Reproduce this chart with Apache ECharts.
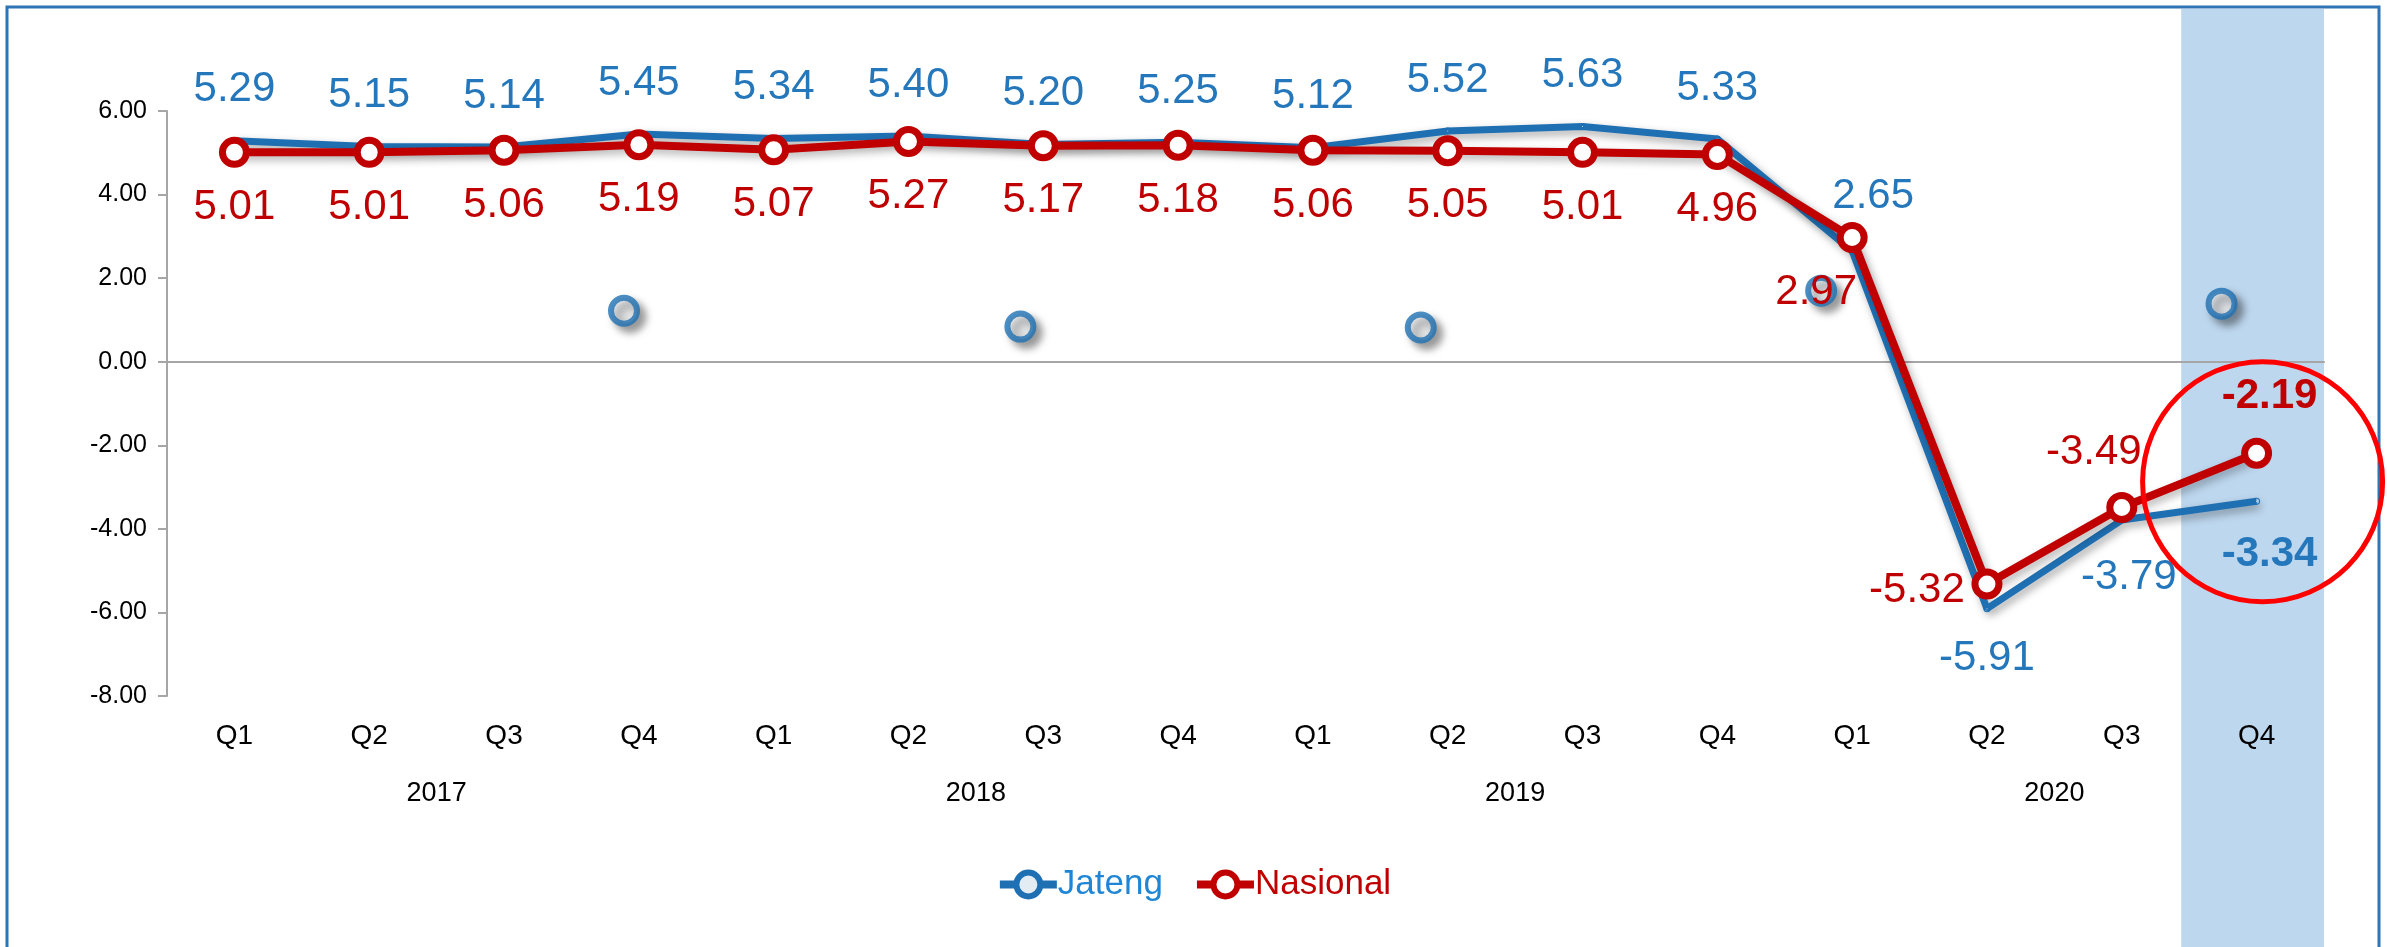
<!DOCTYPE html>
<html>
<head>
<meta charset="utf-8">
<script src="https://cdn.jsdelivr.net/npm/echarts@6/dist/echarts.min.js"></script>
<style>
  html, body { margin: 0; padding: 0; background: #fff; }
  #chart { width: 2387px; height: 947px; }
</style>
</head>
<body>
<div id="chart"></div>
<script>
/* global echarts */

const quarters = ['Q1', 'Q2', 'Q3', 'Q4', 'Q1', 'Q2', 'Q3', 'Q4',
  'Q1', 'Q2', 'Q3', 'Q4', 'Q1', 'Q2', 'Q3', 'Q4'];
const years = ['2017', '2018', '2019', '2020'];

const jateng = [5.29, 5.15, 5.14, 5.45, 5.34, 5.40, 5.20, 5.25,
  5.12, 5.52, 5.63, 5.33, 2.65, -5.91, -3.79, -3.34];
const nasional = [5.01, 5.01, 5.06, 5.19, 5.07, 5.27, 5.17, 5.18,
  5.06, 5.05, 5.01, 4.96, 2.97, -5.32, -3.49, -2.19];

// stray Jateng markers left floating in the source picture (x in category units)
const strayX = [3.39, 6.33, 9.30, 12.27, 15.24];
const strayY = [1.22, 0.84, 0.82, 1.70, 1.39];

const yMin = -8;
const yMax = 6;
const yStep = 2;

const FONT = "'Liberation Sans', Arial, sans-serif";
const BLUE = '#1F70B3';
const BLUE_TEXT = '#2577BC';
const RED = '#C00000';
const AXIS_GRAY = '#A6A6A6';

// label placement tweaks per point
const jatengOffsets = { 12: [21, -55], 13: [0, 50], 14: [7, 57], 15: [13, 53] };
const nasionalOffsets = { 12: [-36, 55], 13: [-70, 6], 14: [-28, -55], 15: [13, -57] };
const boldLast = 15;

function labelled (values, defaultOffset, offsets, color) {
  return values.map((v, i) => ({
    value: v,
    label: {
      offset: offsets[i] || defaultOffset,
      fontWeight: i === boldLast ? 'bold' : 'normal',
      color: color
    }
  }));
}

const chart = echarts.init(document.getElementById('chart'));

const option = {
  animation: false,
  textStyle: { fontFamily: FONT },
  grid: { left: 167, right: 63, top: 111, bottom: 251, containLabel: false },
  legend: {
    top: 862,
    left: 'center',
    itemWidth: 57,
    itemHeight: 30,
    itemGap: 30,
    lineStyle: { width: 8 },
    itemStyle: { borderWidth: 6 },
    textStyle: { fontSize: 35, fontFamily: FONT, padding: [0, 0, 0, -4] },
    data: [
      { name: 'Jateng', textStyle: { color: '#1F86D6' } },
      { name: 'Nasional', textStyle: { color: RED } }
    ]
  },
  xAxis: [
    {
      type: 'category',
      data: quarters,
      axisLine: { onZero: true, lineStyle: { color: AXIS_GRAY, width: 2 } },
      axisTick: { length: 9, lineStyle: { color: AXIS_GRAY, width: 2 } },
      axisLabel: { show: false }
    },
    {
      type: 'category',
      data: quarters,
      position: 'bottom',
      axisLine: { show: false, onZero: false },
      axisTick: { length: 58, lineStyle: { color: AXIS_GRAY, width: 2 } },
      axisLabel: { margin: 26, fontSize: 28, color: '#000', fontFamily: FONT }
    },
    {
      type: 'category',
      data: years,
      position: 'bottom',
      axisLine: { show: false, onZero: false },
      axisTick: { length: 115, lineStyle: { color: AXIS_GRAY, width: 2 } },
      axisLabel: { margin: 84, fontSize: 27, color: '#000', fontFamily: FONT }
    },
    { type: 'value', min: 0, max: quarters.length, show: false }
  ],
  yAxis: {
    type: 'value',
    min: yMin,
    max: yMax,
    interval: yStep,
    splitLine: { show: false },
    axisLine: { show: true, lineStyle: { color: AXIS_GRAY, width: 2 } },
    axisTick: { show: true, length: 9, lineStyle: { color: AXIS_GRAY, width: 2 } },
    axisLabel: {
      margin: 20,
      fontSize: 25,
      color: '#000',
      fontFamily: FONT,
      formatter: v => v.toFixed(2)
    }
  },
  series: [
    {
      name: 'Jateng',
      type: 'line',
      xAxisIndex: 0,
      z: 3,
      symbol: 'circle',
      symbolSize: 1,
      itemStyle: { color: '#E4ECF3', borderColor: BLUE, borderWidth: 6 },
      lineStyle: {
        color: BLUE,
        width: 7,
        shadowColor: 'rgba(0,0,0,0.35)',
        shadowBlur: 8,
        shadowOffsetX: 3,
        shadowOffsetY: 4
      },
      label: {
        show: true,
        position: 'inside',
        fontSize: 42,
        fontFamily: FONT,
        color: BLUE_TEXT,
        formatter: p => p.value.toFixed(2)
      },
      data: labelled(jateng, [0, -51], jatengOffsets, BLUE_TEXT)
    },
    {
      name: 'Nasional',
      type: 'line',
      xAxisIndex: 0,
      z: 4,
      symbol: 'circle',
      symbolSize: 24,
      itemStyle: { color: '#fff', borderColor: RED, borderWidth: 7 },
      lineStyle: {
        color: RED,
        width: 8,
        shadowColor: 'rgba(0,0,0,0.3)',
        shadowBlur: 8,
        shadowOffsetX: 3,
        shadowOffsetY: 4
      },
      label: {
        show: true,
        position: 'inside',
        fontSize: 42,
        fontFamily: FONT,
        color: RED,
        formatter: p => p.value.toFixed(2)
      },
      data: labelled(nasional, [0, 55], nasionalOffsets, RED)
    },
    {
      name: 'stray',
      type: 'scatter',
      xAxisIndex: 3,
      z: 2,
      symbolSize: 26,
      itemStyle: {
        color: '#F2F4F6',
        borderColor: BLUE,
        borderWidth: 6,
        shadowColor: 'rgba(0,0,0,0.45)',
        shadowBlur: 8,
        shadowOffsetX: 6,
        shadowOffsetY: 6
      },
      data: strayX.map((x, i) => [x, strayY[i]])
    }
  ]
};

chart.setOption(option);

// highlight band over the last quarter and the red ring around it
const last = quarters.length - 1;
const cLast = chart.convertToPixel({ xAxisIndex: 0 }, last);
const cPrev = chart.convertToPixel({ xAxisIndex: 0 }, last - 1);
const step = cLast - cPrev;
const ring = chart.convertToPixel({ xAxisIndex: 0, yAxisIndex: 0 }, [last, -2.87]);

chart.setOption({
  graphic: [
    {
      type: 'rect',
      z: -1,
      shape: { x: cLast - step / 2 - 8, y: 9, width: step + 8, height: 940 },
      style: { fill: '#BDD7EE' }
    },
    {
      type: 'rect',
      z: 10,
      shape: { x: 7, y: 7, width: 2372, height: 1000 },
      style: { fill: 'none', stroke: '#2E75B6', lineWidth: 3 }
    },
    {
      type: 'ellipse',
      z: 10,
      shape: { cx: ring[0] + 6, cy: ring[1], rx: 120, ry: 120 },
      style: { fill: 'none', stroke: '#FF0000', lineWidth: 5 }
    }
  ]
});
</script>
</body>
</html>
